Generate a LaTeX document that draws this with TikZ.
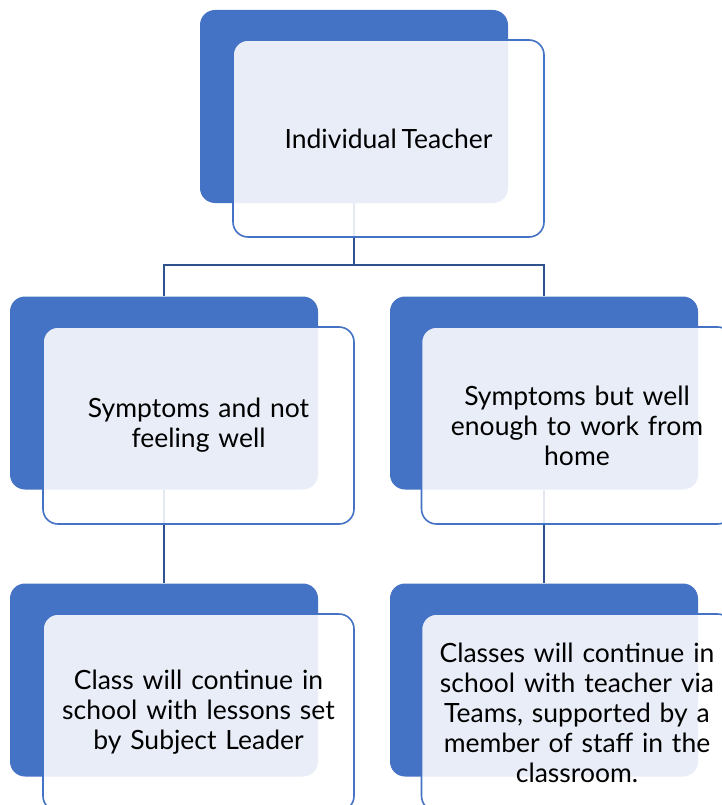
\documentclass[tikz,border=0pt]{standalone}
\usepackage{fontspec}
\setmainfont{Lato}
\definecolor{orgblue}{RGB}{68,114,196}
\definecolor{orgline}{RGB}{47,82,143}
\tikzset{
  backbox/.style={fill=orgblue, rounded corners=15pt, minimum width=308pt, minimum height=193pt, inner sep=0pt},
  frontbox/.style={draw=orgblue, line width=1.6pt, fill=white, fill opacity=0.88, text opacity=1,
    rounded corners=15pt, minimum width=311pt, minimum height=197pt, inner sep=0pt,
    text width=300pt, align=center, font=\fontsize{26.5}{30}\selectfont},
  link/.style={draw=orgline, line width=2pt}
}
\begin{document}
\begin{tikzpicture}[x=1pt,y=-1pt]
  \useasboundingbox (0,0) rectangle (722,805);
  \clip (0,0) rectangle (722,805);
  % blue boxes behind
  \node[backbox] (teacherback) at (354,106.5) {};
  \node[backbox] (unwellback) at (164,393) {};
  \node[backbox] (homeback) at (544,393) {};
  \node[backbox] (leaderback) at (164,680) {};
  \node[backbox] (teamsback) at (544,680) {};
  % connectors
  \coordinate (split) at (354,265);
  \draw[link] (teacherback.south) -- (split);
  \draw[link] (split) -| (unwellback.north);
  \draw[link] (split) -| (homeback.north);
  \draw[link] (unwellback.south) -- (leaderback.north);
  \draw[link] (homeback.south) -- (teamsback.north);
  % text boxes in front
  \node[frontbox] (teacher) at (388.5,138.5) {Individual\hspace{-0.15em} Teacher};
  \node[frontbox] (unwell) at (198.5,425.5) {Symptoms and not\\feeling well};
  \node[frontbox] (home) at (577,425.5) {Symptoms but well\\enough to work from\\home};
  \node[frontbox] (leader) at (198.5,712.5) {Class will continue in\\school with lessons set\\by Subject Leader};
  \node[frontbox] (teams) at (577,712.5) {Classes will continue in\\school with teacher via\\Teams, supported by a\\member of staff in the\\classroom.};
\end{tikzpicture}
\end{document}
